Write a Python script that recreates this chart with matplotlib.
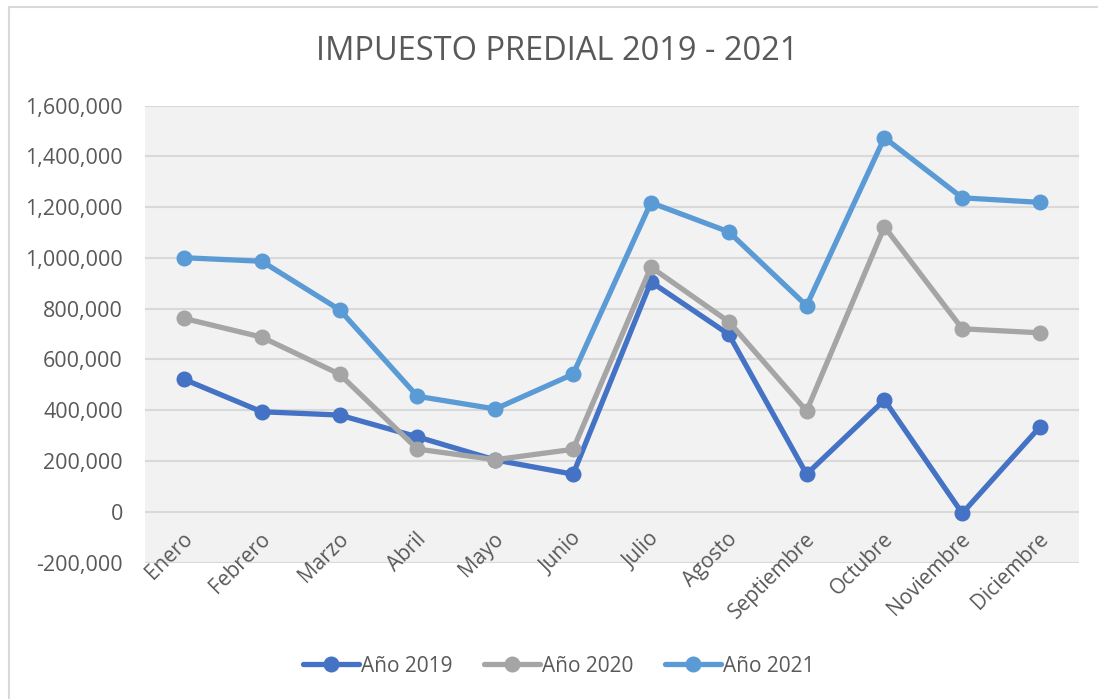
import matplotlib
matplotlib.use("Agg")
import matplotlib.pyplot as plt
from matplotlib.patches import Rectangle
from matplotlib.ticker import FuncFormatter, MultipleLocator

months = ["Enero", "Febrero", "Marzo", "Abril", "Mayo", "Junio", "Julio",
          "Agosto", "Septiembre", "Octubre", "Noviembre", "Diciembre"]
anio_2019 = [522000, 394000, 381000, 295000, 204000, 148000, 906000,
             699000, 148000, 440000, -6000, 335000]
anio_2020 = [762000, 688000, 542000, 247000, 205000, 246000, 964000,
             749000, 397000, 1123000, 721000, 705000]
anio_2021 = [1001000, 987000, 796000, 455000, 405000, 542000, 1218000,
             1103000, 812000, 1474000, 1237000, 1219000]
series_labels = ["Año 2019", "Año 2020", "Año 2021"]
colors = ["#4472C4", "#A5A5A5", "#5B9BD5"]
title = "IMPUESTO PREDIAL 2019 - 2021"

plt.rcParams['font.family'] = ['Open Sans', 'DejaVu Sans']
txt = "#595959"

W, H = 1098, 699
fig = plt.figure(figsize=(W / 100, H / 100), dpi=100)
fig.patch.set_facecolor("white")
fig.patches.append(Rectangle((9 / W, -0.1), 1.2, 1 - 7 / H + 0.1,
                             transform=fig.transFigure, fill=False,
                             edgecolor="#D9D9D9", linewidth=1.5))

left, right, top, bottom = 145, 1079, 105.7, 562.5
ax = fig.add_axes([left / W, 1 - bottom / H, (right - left) / W, (bottom - top) / H])
ax.set_facecolor("#F2F2F2")

x = list(range(len(months)))
for vals, lab, c in zip([anio_2019, anio_2020, anio_2021], series_labels, colors):
    ax.plot(x, vals, color=c, lw=3.8, marker="o", markersize=10.5,
            label=lab, solid_capstyle="round", solid_joinstyle="round", zorder=3)

ax.set_xlim(-0.5, len(months) - 0.5)
ax.set_ylim(-200000, 1600000)
ax.yaxis.set_major_locator(MultipleLocator(200000))
ax.yaxis.set_major_formatter(FuncFormatter(lambda v, p: f"{v:,.0f}"))
ax.grid(axis="y", color="#D9D9D9", lw=1.5, zorder=0)
ax.set_axisbelow(True)
for s in ax.spines.values():
    s.set_visible(False)
ax.tick_params(axis="y", length=0, pad=16, labelsize=15.5, labelcolor=txt)
ax.set_xticks([])

for i, m in enumerate(months):
    ax.annotate(m, xy=(i, 0), xycoords="data", xytext=(-1.5, -12),
                textcoords="offset points", ha="right", va="top",
                rotation=45, rotation_mode="anchor", fontsize=15, color=txt)

fig.text(557 / W, 1 - 51 / H, title, ha="center", va="center", fontsize=23.5,
         color=txt)

leg = fig.legend(loc="center", bbox_to_anchor=(559 / W, 1 - 666 / H), ncol=3,
                 frameon=False, fontsize=15, handlelength=2.7,
                 handletextpad=0.1, columnspacing=1.5, labelcolor=txt)

fig.savefig("out.png", dpi=100)
